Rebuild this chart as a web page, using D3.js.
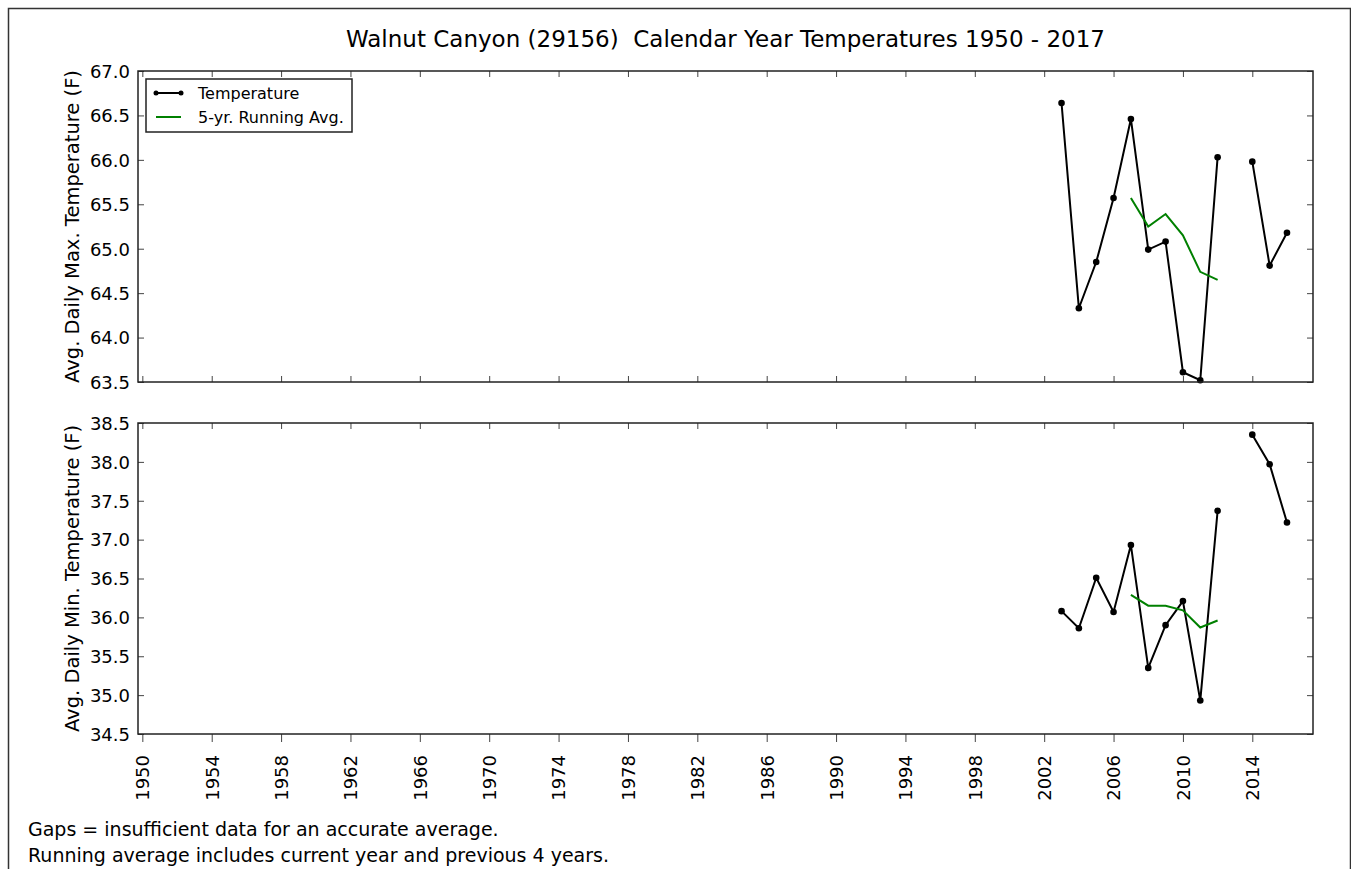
<!DOCTYPE html>
<html>
<head>
<meta charset="utf-8">
<script src="https://cdn.jsdelivr.net/npm/d3@7"></script>
<style>
  body { margin: 0; background: #fff; }
  svg text { font-family: "DejaVu Sans", sans-serif; fill: #000; }
</style>
</head>
<body>
<div class="chart"></div>
<script>
var years = [2003, 2004, 2005, 2006, 2007, 2008, 2009, 2010, 2011, 2012, 2013, 2014, 2015, 2016];
// null = gap (insufficient data)
var maxTemp = [66.64, 64.33, 64.85, 65.57, 66.46, 64.99, 65.08, 63.61, 63.52, 66.03, null, 65.98, 64.81, 65.18];
var maxAvg  = [null, null, null, null, 65.57, 65.25, 65.39, 65.15, 64.74, 64.65, null, null, null, null];
var minTemp = [36.08, 35.86, 36.51, 36.07, 36.93, 35.35, 35.90, 36.21, 34.93, 37.37, null, 38.35, 37.97, 37.22];
var minAvg  = [null, null, null, null, 36.29, 36.15, 36.15, 36.09, 35.87, 35.96, null, null, null, null];
var yearTicks = [1950, 1954, 1958, 1962, 1966, 1970, 1974, 1978, 1982, 1986, 1990, 1994, 1998, 2002, 2006, 2010, 2014];
var maxTicks = [63.5, 64.0, 64.5, 65.0, 65.5, 66.0, 66.5, 67.0];
var minTicks = [34.5, 35.0, 35.5, 36.0, 36.5, 37.0, 37.5, 38.0, 38.5];

var W = 1351, H = 869;
var left = 138, right = 1313;
var panels = [
  {top: 71, bottom: 382, domain: [63.5, 67.0], ticks: maxTicks, temp: maxTemp, avg: maxAvg,
   label: "Avg. Daily Max. Temperature (F)", legend: true, xlabels: false},
  {top: 423, bottom: 734, domain: [34.5, 38.5], ticks: minTicks, temp: minTemp, avg: minAvg,
   label: "Avg. Daily Min. Temperature (F)", legend: false, xlabels: true}
];

var svg = d3.select(".chart").append("svg")
    .attr("width", W)
    .attr("height", H);

// outer frame
svg.append("rect")
    .attr("x", 8.5).attr("y", 8.5)
    .attr("width", 1342).attr("height", 900)
    .attr("fill", "none").attr("stroke", "#333").attr("stroke-width", 1.5);

svg.append("text")
    .attr("x", (left + right) / 2)
    .attr("y", 47)
    .attr("text-anchor", "middle")
    .style("font-size", "23px")
    .style("white-space", "pre")
    .text("Walnut Canyon (29156)  Calendar Year Temperatures 1950 - 2017");

var x = d3.scaleLinear()
  .domain([1949.75, 2017.5])
  .range([left, right]);

panels.forEach(function (p) {
  var y = d3.scaleLinear().domain(p.domain).range([p.bottom, p.top]);
  var g = svg.append("g");

  // inward ticks on all sides, labels on left
  g.append("g")
    .attr("transform", "translate(" + left + ",0)")
    .call(d3.axisLeft(y).tickValues(p.ticks).tickFormat(d3.format(".1f")).tickSize(-6).tickPadding(8))
    .call(function (a) {
      a.select(".domain").remove();
      a.selectAll("text").style("font-size", "18px").attr("dy", "0.35em");
      a.selectAll("line").attr("stroke", "#444");
    });
  g.append("g")
    .attr("transform", "translate(" + right + ",0)")
    .call(d3.axisRight(y).tickValues(p.ticks).tickFormat("").tickSize(-6))
    .call(function (a) { a.select(".domain").remove(); a.selectAll("line").attr("stroke", "#444"); });
  g.append("g")
    .attr("transform", "translate(0," + p.top + ")")
    .call(d3.axisTop(x).tickValues(yearTicks).tickFormat("").tickSize(-6))
    .call(function (a) { a.select(".domain").remove(); a.selectAll("line").attr("stroke", "#444"); });

  if (p.xlabels) {
    g.append("g")
      .attr("transform", "translate(0," + p.bottom + ")")
      .call(d3.axisBottom(x).tickValues(yearTicks).tickFormat(d3.format("d")).tickSize(8))
      .call(function (a) {
        a.select(".domain").remove();
        a.selectAll("line").attr("stroke", "#444");
        a.selectAll("text")
          .style("font-size", "18px")
          .attr("transform", "rotate(-90)")
          .attr("x", -21).attr("y", 0).attr("dy", "0.35em")
          .style("text-anchor", "end");
      });
  } else {
    g.append("g")
      .attr("transform", "translate(0," + p.bottom + ")")
      .call(d3.axisBottom(x).tickValues(yearTicks).tickFormat("").tickSize(-6))
      .call(function (a) { a.select(".domain").remove(); a.selectAll("line").attr("stroke", "#444"); });
  }

  g.append("text")
    .attr("transform", "translate(72," + (p.top + p.bottom) / 2 + ") rotate(-90)")
    .attr("text-anchor", "middle")
    .attr("dy", "0.35em")
    .style("font-size", "19.5px")
    .text(p.label);

  var data = years.map(function (yr, i) { return {year: yr, temp: p.temp[i], avg: p.avg[i]}; });

  var tempLine = d3.line()
    .defined(function (d) { return d.temp != null; })
    .x(function (d) { return x(d.year); })
    .y(function (d) { return y(d.temp); });
  var avgLine = d3.line()
    .defined(function (d) { return d.avg != null; })
    .x(function (d) { return x(d.year); })
    .y(function (d) { return y(d.avg); });

  g.append("path")
    .datum(data)
    .attr("fill", "none").attr("stroke", "#000").attr("stroke-width", 2)
    .attr("d", tempLine);
  g.selectAll(".dot")
    .data(data.filter(function (d) { return d.temp != null; }))
    .enter().append("circle")
    .attr("cx", function (d) { return x(d.year); })
    .attr("cy", function (d) { return y(d.temp); })
    .attr("r", 3.3)
    .attr("fill", "#000");
  g.append("path")
    .datum(data)
    .attr("fill", "none").attr("stroke", "#008000").attr("stroke-width", 2)
    .attr("d", avgLine);

  // frame
  g.append("rect")
    .attr("x", left).attr("y", p.top)
    .attr("width", right - left).attr("height", p.bottom - p.top)
    .attr("fill", "none").attr("stroke", "#222").attr("stroke-width", 1.5);

  if (p.legend) {
    var lg = g.append("g").attr("transform", "translate(146,79)");
    lg.append("rect").attr("width", 206).attr("height", 53)
      .attr("fill", "#fff").attr("stroke", "#222").attr("stroke-width", 1.5);
    lg.append("line").attr("x1", 10).attr("x2", 35).attr("y1", 14).attr("y2", 14)
      .attr("stroke", "#000").attr("stroke-width", 2);
    lg.selectAll(".lm").data([10, 35]).enter().append("circle")
      .attr("cx", function (d) { return d; }).attr("cy", 14).attr("r", 2.5).attr("fill", "#000");
    lg.append("text").attr("x", 52).attr("y", 14).attr("dy", "0.35em")
      .style("font-size", "16px").text("Temperature");
    lg.append("line").attr("x1", 10).attr("x2", 35).attr("y1", 38).attr("y2", 38)
      .attr("stroke", "#008000").attr("stroke-width", 2);
    lg.append("text").attr("x", 52).attr("y", 38).attr("dy", "0.35em")
      .style("font-size", "16px").text("5-yr. Running Avg.");
  }
});

svg.append("text").attr("x", 28).attr("y", 836)
  .style("font-size", "19px")
  .text("Gaps = insufficient data for an accurate average.");
svg.append("text").attr("x", 28).attr("y", 862)
  .style("font-size", "19px")
  .text("Running average includes current year and previous 4 years.");
</script>
</body>
</html>
